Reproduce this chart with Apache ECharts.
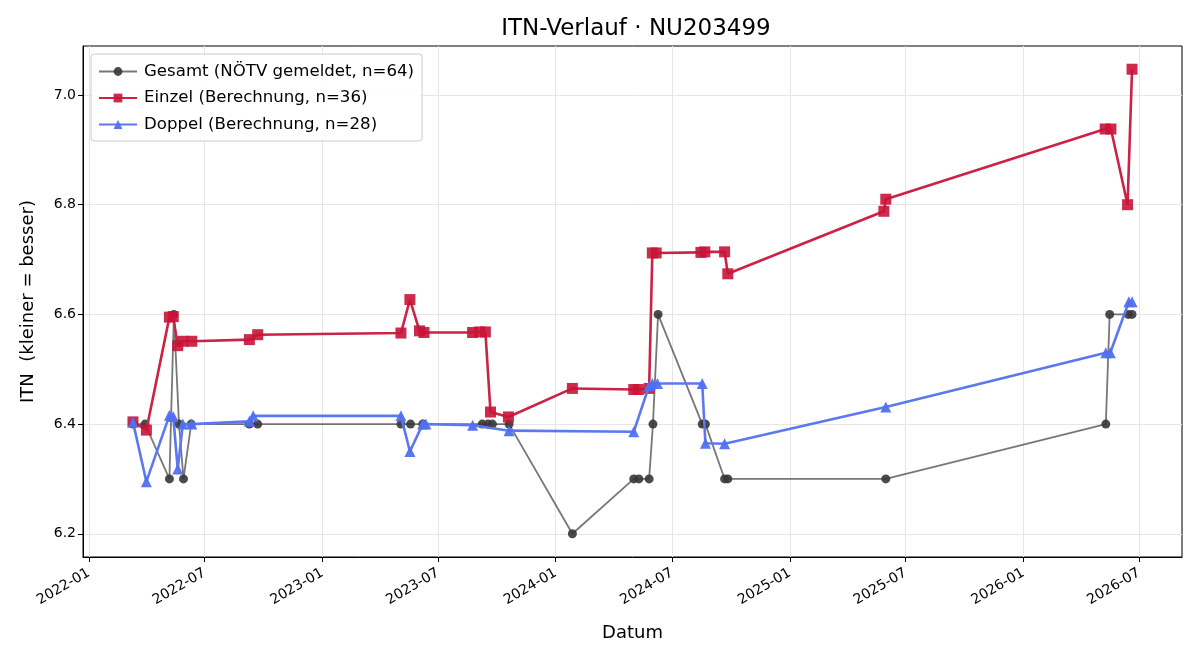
<!DOCTYPE html>
<html>
<head>
<meta charset="utf-8">
<script src="https://cdn.jsdelivr.net/npm/echarts@6/dist/echarts.min.js"></script>
<style>html,body{margin:0;padding:0;background:#fff}#c{width:1200px;height:660px}</style>
</head>
<body>
<div id="c"></div>
<script>
const titleText = 'ITN-Verlauf · NU203499';
const xTickDates = ['2022-01-01','2022-07-01','2023-01-01','2023-07-01','2024-01-01','2024-07-01','2025-01-01','2025-07-01','2026-01-01','2026-07-01'];
const yTicks = [6.2, 6.4, 6.6, 6.8, 7.0];

const gesamtDates = ['2022-03-11','2022-03-30','2022-05-07','2022-05-14','2022-05-22','2022-05-29','2022-06-10','2022-09-09','2022-09-22','2023-05-04','2023-05-19','2023-06-07','2023-09-08','2023-09-17','2023-09-24','2023-10-20','2024-01-27','2024-05-02','2024-05-10','2024-05-26','2024-06-01','2024-06-09','2024-08-17','2024-08-22','2024-09-21','2024-09-26','2025-05-31','2026-05-10','2026-05-16','2026-06-14','2026-06-20'];
const gesamtValues = [6.4,6.4,6.3,6.6,6.4,6.3,6.4,6.4,6.4,6.4,6.4,6.4,6.4,6.4,6.4,6.4,6.2,6.3,6.3,6.3,6.4,6.6,6.4,6.4,6.3,6.3,6.3,6.4,6.6,6.6,6.6];

const einzelDates = ['2022-03-11','2022-04-01','2022-05-07','2022-05-13','2022-05-20','2022-05-28','2022-06-11','2022-09-09','2022-09-22','2023-05-04','2023-05-18','2023-06-02','2023-06-09','2023-08-24','2023-09-04','2023-09-13','2023-09-21','2023-10-19','2024-01-27','2024-05-02','2024-05-09','2024-05-26','2024-05-31','2024-06-06','2024-08-15','2024-08-21','2024-09-21','2024-09-26','2025-05-28','2025-05-31','2026-05-09','2026-05-18','2026-06-13','2026-06-20'];
const einzelValues = [6.404,6.389,6.595,6.596,6.543,6.551,6.551,6.554,6.563,6.566,6.627,6.570,6.567,6.567,6.568,6.568,6.422,6.413,6.465,6.463,6.463,6.465,6.712,6.712,6.713,6.714,6.714,6.674,6.788,6.810,6.938,6.938,6.800,7.047];

const doppelDates = ['2022-03-11','2022-04-01','2022-05-07','2022-05-13','2022-05-20','2022-05-28','2022-06-11','2022-09-09','2022-09-15','2023-05-04','2023-05-18','2023-06-07','2023-06-12','2023-08-24','2023-10-20','2024-05-02','2024-05-26','2024-05-31','2024-06-08','2024-08-17','2024-08-22','2024-09-21','2025-05-31','2026-05-10','2026-05-17','2026-06-15','2026-06-20'];
const doppelValues = [6.404,6.295,6.416,6.414,6.318,6.400,6.400,6.405,6.415,6.415,6.350,6.400,6.400,6.398,6.388,6.386,6.470,6.474,6.474,6.474,6.365,6.364,6.431,6.530,6.530,6.623,6.623];

function t(s){ const p = s.split('-').map(Number); return Date.UTC(p[0], p[1]-1, p[2]); }
function pairs(ds, vs){ return ds.map((d,i)=>[t(d), vs[i]]); }

const allT = [].concat(gesamtDates, einzelDates, doppelDates).map(t);
const allV = [].concat(gesamtValues, einzelValues, doppelValues);
const tMin = Math.min.apply(null, allT), tMax = Math.max.apply(null, allT);
const vMin = Math.min.apply(null, allV), vMax = Math.max.apply(null, allV);
const tPad = (tMax - tMin) * 0.05, vPad = (vMax - vMin) * 0.05;

const font = 'DejaVu Sans';
const chart = echarts.init(document.getElementById('c'), null, {renderer:'canvas'});
chart.setOption({
  animation: false,
  backgroundColor: '#fff',
  textStyle: {fontFamily: font},
  title: {
    text: titleText, left: 631, top: 13, textAlign: 'center',
    textStyle: {fontFamily: font, fontSize: 23, fontWeight: 'normal', color: '#000'}
  },
  grid: {left: 83, right: 18, top: 46, bottom: 103, show: true, borderColor: '#000', borderWidth: 1, backgroundColor: 'transparent'},
  legend: {
    orient: 'vertical', left: 91, top: 54,
    padding: [9, 8, 8, 7],
    itemWidth: 38, itemHeight: 11, itemGap: 9.5,
    backgroundColor: 'rgba(255,255,255,0.85)', borderColor: '#cccccc', borderWidth: 1, borderRadius: 3,
    textStyle: {fontFamily: font, fontSize: 16.6, color: '#000', padding: [0,0,0,2]},
    data: ['Gesamt (NÖTV gemeldet, n=64)', 'Einzel (Berechnung, n=36)', 'Doppel (Berechnung, n=28)']
  },
  xAxis: {
    type: 'value', min: tMin - tPad, max: tMax + tPad, scale: true,
    name: 'Datum', nameLocation: 'middle', nameGap: 67,
    nameTextStyle: {fontFamily: font, fontSize: 18, color: '#000'},
    axisLine: {show: true, onZero: false, lineStyle: {color: '#000', width: 1}},
    axisTick: {show: true, inside: false, length: 5, lineStyle: {color: '#000'}, customValues: xTickDates.map(t)},
    axisLabel: {
      customValues: xTickDates.map(t), rotate: 30, fontFamily: font, fontSize: 14, color: '#000', margin: 15,
      showMinLabel: true, showMaxLabel: true, hideOverlap: false,
      formatter: function(v){ const d = new Date(v); return d.getUTCFullYear() + '-' + String(d.getUTCMonth()+1).padStart(2,'0'); }
    },
    splitLine: {show: true, lineStyle: {color: '#e6e6e6', width: 1}}
  },
  yAxis: {
    type: 'value', min: vMin - vPad, max: vMax + vPad, scale: true,
    name: 'ITN  (kleiner = besser)', nameLocation: 'middle', nameGap: 46,
    nameTextStyle: {fontFamily: font, fontSize: 18, color: '#000'},
    axisLine: {show: true, onZero: false, lineStyle: {color: '#000', width: 1}},
    axisTick: {show: true, inside: false, length: 5, lineStyle: {color: '#000'}, customValues: yTicks},
    axisLabel: {customValues: yTicks, fontFamily: font, fontSize: 14, color: '#000', margin: 7, formatter: v => v.toFixed(1)},
    splitLine: {show: true, lineStyle: {color: '#e6e6e6', width: 1}}
  },
  series: [
    {
      name: 'Gesamt (NÖTV gemeldet, n=64)', type: 'line', data: pairs(gesamtDates, gesamtValues),
      symbol: 'circle', symbolSize: 9, showAllSymbol: true,
      lineStyle: {color: 'rgba(55,55,55,0.68)', width: 1.8},
      itemStyle: {color: 'rgba(55,55,55,0.9)'}, z: 2
    },
    {
      name: 'Einzel (Berechnung, n=36)', type: 'line', data: pairs(einzelDates, einzelValues),
      symbol: 'rect', symbolSize: 11, showAllSymbol: true,
      lineStyle: {color: '#cb2245', width: 2.6},
      itemStyle: {color: 'rgba(200,20,55,0.9)'}, z: 3
    },
    {
      name: 'Doppel (Berechnung, n=28)', type: 'line', data: pairs(doppelDates, doppelValues),
      symbol: 'triangle', symbolSize: 11, showAllSymbol: true,
      lineStyle: {color: '#5b78f1', width: 2.6},
      itemStyle: {color: 'rgba(80,112,240,0.95)'}, z: 4
    }
  ]
});
</script>
</body>
</html>
